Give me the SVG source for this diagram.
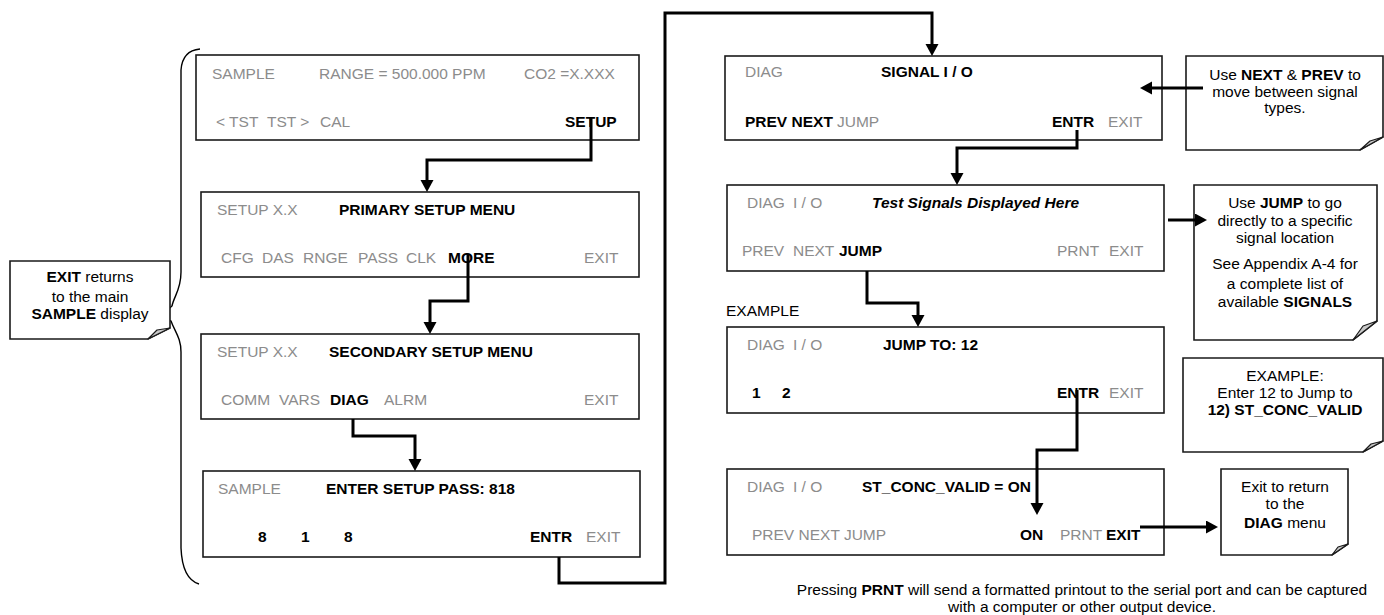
<svg xmlns="http://www.w3.org/2000/svg" width="1384" height="615" viewBox="0 0 1384 615">
<style>
text{font-family:"Liberation Sans",Arial,sans-serif;font-size:15.5px;fill:#000}
.g{fill:#8c8c8c}
.b{font-weight:bold}
.bi{font-weight:bold;font-style:italic}
.m{text-anchor:middle}
.panel{fill:#fff;stroke:#1a1a1a;stroke-width:1.6}
.note{fill:#fff;stroke:#1a1a1a;stroke-width:1.6}
.fold{fill:#c8c8c8;stroke:#1a1a1a;stroke-width:1.2;stroke-linejoin:round}
.con{fill:none;stroke:#000;stroke-width:3;stroke-linejoin:miter}
.brace{fill:none;stroke:#000;stroke-width:1.4}
</style>
<defs>
<marker id="ah" markerUnits="userSpaceOnUse" markerWidth="14" markerHeight="14" refX="2" refY="6.5" orient="auto">
<path d="M0,0 L12,6.5 L0,13 Z" fill="#000"/>
</marker>
</defs>

<!-- brace -->
<path class="brace" d="M200,49 C189,50 182,56 181,70 L181,272 C181,290 174,296 172,306 L160,317 L171,321 C175,332 181,338 181,352 L181,548 C182,572 189,581 199,584"/>

<!-- left note -->
<g id="note-exit">
<path class="note" d="M10,261 H170 V328 L148,339 H10 Z"/>
<path class="fold" d="M148,339 L170,328 L157,330 Z"/>
<text class="m" x="90" y="282"><tspan class="b">EXIT</tspan> returns</text>
<text class="m" x="90" y="302">to the main</text>
<text class="m" x="90" y="319"><tspan class="b">SAMPLE</tspan> display</text>
</g>

<g id="p1">
<rect class="panel" x="196" y="55" width="443" height="85"/>
<text class="g" x="212" y="79">SAMPLE</text>
<text class="g" x="319" y="79">RANGE = 500.000 PPM</text>
<text class="g" x="524" y="79">CO2 =X.XXX</text>
<text class="g" x="216" y="127">&lt; TST</text>
<text class="g" x="267" y="127">TST &gt;</text>
<text class="g" x="320" y="127">CAL</text>
<text class="b" x="565" y="127">SETUP</text>
</g>

<g id="p2">
<rect class="panel" x="201" y="192" width="438" height="85"/>
<text class="g" x="217" y="215">SETUP X.X</text>
<text class="b" x="339" y="215">PRIMARY SETUP MENU</text>
<text class="g" x="221" y="263">CFG</text>
<text class="g" x="262" y="263">DAS</text>
<text class="g" x="303" y="263">RNGE</text>
<text class="g" x="358" y="263">PASS</text>
<text class="g" x="406" y="263">CLK</text>
<text class="b" x="448" y="263">MORE</text>
<text class="g" x="584" y="263">EXIT</text>
</g>

<g id="p3">
<rect class="panel" x="201" y="334" width="438" height="85"/>
<text class="g" x="217" y="357">SETUP X.X</text>
<text class="b" x="329" y="357">SECONDARY SETUP MENU</text>
<text class="g" x="221" y="405">COMM</text>
<text class="g" x="279" y="405">VARS</text>
<text class="b" x="330" y="405">DIAG</text>
<text class="g" x="384" y="405">ALRM</text>
<text class="g" x="584" y="405">EXIT</text>
</g>

<g id="p4">
<rect class="panel" x="203" y="471" width="437" height="86"/>
<text class="g" x="218" y="494">SAMPLE</text>
<text class="b" x="326" y="494">ENTER SETUP PASS: 818</text>
<text class="b" x="258" y="542">8</text>
<text class="b" x="301" y="542">1</text>
<text class="b" x="344" y="542">8</text>
<text class="b" x="530" y="542">ENTR</text>
<text class="g" x="586" y="542">EXIT</text>
</g>

<g id="r1">
<rect class="panel" x="725" y="56" width="437" height="84"/>
<text class="g" x="745" y="77">DIAG</text>
<text class="b" x="881" y="77">SIGNAL I / O</text>
<text class="b" x="745" y="127">PREV NEXT</text>
<text class="g" x="837" y="127">JUMP</text>
<text class="b" x="1052" y="127">ENTR</text>
<text class="g" x="1108" y="127">EXIT</text>
</g>

<g id="r2">
<rect class="panel" x="727" y="185" width="437" height="86"/>
<text class="g" x="747" y="208">DIAG</text>
<text class="g" x="793" y="208">I / O</text>
<text class="bi" x="872" y="208">Test Signals Displayed Here</text>
<text class="g" x="742" y="256">PREV</text>
<text class="g" x="793" y="256">NEXT</text>
<text class="b" x="839" y="256">JUMP</text>
<text class="g" x="1057" y="256">PRNT</text>
<text class="g" x="1109" y="256">EXIT</text>
</g>

<text id="example-label" x="726" y="316">EXAMPLE</text>

<g id="r3">
<rect class="panel" x="727" y="327" width="437" height="86"/>
<text class="g" x="747" y="350">DIAG</text>
<text class="g" x="793" y="350">I / O</text>
<text class="b" x="883" y="350">JUMP TO: 12</text>
<text class="b" x="752" y="398">1</text>
<text class="b" x="782" y="398">2</text>
<text class="b" x="1057" y="398">ENTR</text>
<text class="g" x="1109" y="398">EXIT</text>
</g>

<g id="r4">
<rect class="panel" x="727" y="469" width="437" height="86"/>
<text class="g" x="747" y="492">DIAG</text>
<text class="g" x="793" y="492">I / O</text>
<text class="b" x="862" y="492">ST_CONC_VALID = ON</text>
<text class="g" x="752" y="540">PREV NEXT JUMP</text>
<text class="b" x="1020" y="540">ON</text>
<text class="g" x="1060" y="540">PRNT</text>
<text class="b" x="1106" y="540">EXIT</text>
</g>

<g id="n1">
<path class="note" d="M1186,56 H1383 V137 L1360,150 H1186 Z"/>
<path class="fold" d="M1360,150 L1383,137 L1370,141 Z"/>
<text class="m" x="1285" y="80">Use <tspan class="b">NEXT</tspan> &amp; <tspan class="b">PREV</tspan> to</text>
<text class="m" x="1285" y="97">move between signal</text>
<text class="m" x="1285" y="113">types.</text>
</g>

<g id="n2">
<path class="note" d="M1194,185 H1377 V321 L1353,340 H1194 Z"/>
<path class="fold" d="M1353,340 L1377,321 L1363,326 Z"/>
<text class="m" x="1285" y="208">Use <tspan class="b">JUMP</tspan> to go</text>
<text class="m" x="1285" y="226">directly to a specific</text>
<text class="m" x="1285" y="243">signal location</text>
<text class="m" x="1285" y="269">See Appendix A-4 for</text>
<text class="m" x="1285" y="289">a complete list of</text>
<text class="m" x="1285" y="307">available <tspan class="b">SIGNALS</tspan></text>
</g>

<g id="n3">
<path class="note" d="M1183,358 H1383 V441 L1363,452 H1183 Z"/>
<path class="fold" d="M1363,452 L1383,441 L1371,444 Z"/>
<text class="m" x="1285" y="381">EXAMPLE:</text>
<text class="m" x="1285" y="398">Enter 12 to Jump to</text>
<text class="m b" x="1285" y="415">12) ST_CONC_VALID</text>
</g>

<g id="n4">
<path class="note" d="M1221,469 H1348 V544 L1332,555 H1221 Z"/>
<path class="fold" d="M1332,555 L1348,544 L1338,547 Z"/>
<text class="m" x="1285" y="492">Exit to return</text>
<text class="m" x="1285" y="509">to the</text>
<text class="m" x="1285" y="528"><tspan class="b">DIAG</tspan> menu</text>
</g>

<text id="bottom1" class="m" x="1082" y="595">Pressing <tspan class="b">PRNT</tspan> will send a formatted printout to the serial port and can be captured</text>
<text id="bottom2" class="m" x="1082" y="612">with a computer or other output device.</text>

<g id="connectors">
<path class="con" d="M591,118 V160 H427 V182" marker-end="url(#ah)"/>
<path class="con" d="M468,254 V301 H430 V324" marker-end="url(#ah)"/>
<path class="con" d="M353,419 V436 H415 V461" marker-end="url(#ah)"/>
<path class="con" d="M559,557 V583 H665 V13 H932 V46" marker-end="url(#ah)"/>
<path class="con" d="M1203,88 H1150" marker-end="url(#ah)"/>
<path class="con" d="M1077,130 V148 H957 V175" marker-end="url(#ah)"/>
<path class="con" d="M1168,220 H1197" marker-end="url(#ah)"/>
<path class="con" d="M867,271 V303 H918 V317" marker-end="url(#ah)"/>
<path class="con" d="M1077,390 V450 H1037 V505" marker-end="url(#ah)"/>
<path class="con" d="M1140,527 H1208" marker-end="url(#ah)"/>
</g>
</svg>
